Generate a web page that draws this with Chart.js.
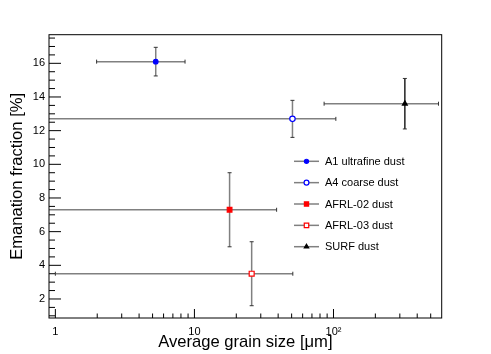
<!DOCTYPE html>
<html><head><meta charset="utf-8">
<script src="https://cdn.jsdelivr.net/npm/chart.js@4.4.1/dist/chart.umd.min.js"></script>
<style>html,body{margin:0;padding:0;background:#fff;}canvas{display:block;}</style>
</head><body>
<canvas id="c" width="491" height="354"></canvas>
<script>
// ---- data ----
const seriesNames = ['A1 ultrafine dust', 'A4 coarse dust', 'AFRL-02 dust', 'AFRL-03 dust', 'SURF dust'];
const grainSize = [5.27, 50.7, 17.9, 25.8, 326];
const grainLow = [1.98, 0.5, 0.5, 1.0, 85.6];
const grainHigh = [8.56, 104, 39, 51, 569];
const emanation = [16.1, 12.7, 7.3, 3.5, 13.6];
const emanationErr = [0.85, 1.1, 2.2, 1.9, 1.5];
const xTickValues = [1, 10, 100];
const xTickLabels = ['1', '10', '10\u00B2'];
const yTickValues = [2, 4, 6, 8, 10, 12, 14, 16];

// ---- styles ----
const markerStyles = [
  {pointStyle: 'circle', radius: 2.3, fill: '#0000ff', stroke: '#0000ff'},
  {pointStyle: 'circle', radius: 2.7, fill: '#ffffff', stroke: '#0000ff'},
  {pointStyle: 'rect', radius: 3.3, fill: '#ff0000', stroke: '#ff0000'},
  {pointStyle: 'rect', radius: 3.5, fill: '#ffffff', stroke: '#ff0000'},
  {pointStyle: 'triangle', radius: 2.8, fill: '#000000', stroke: '#000000'}
];
const xBarColors = ['#808080', '#808080', '#808080', '#808080', '#808080'];
const yBarColors = ['#808080', '#808080', '#808080', '#808080', '#222222'];
const FONT = '"Liberation Sans", Arial, sans-serif';

const datasets = seriesNames.map((name, i) => ({
  label: name,
  data: [{x: grainSize[i], y: emanation[i]}],
  pointStyle: markerStyles[i].pointStyle,
  pointRadius: markerStyles[i].radius,
  pointBackgroundColor: markerStyles[i].fill,
  pointBorderColor: markerStyles[i].stroke,
  pointBorderWidth: 1.2,
  showLine: false
}));

const errorBars = {
  id: 'errorBars',
  beforeDatasetsDraw(chart) {
    const {ctx, chartArea: a, scales: {x, y}} = chart;
    ctx.save();
    ctx.beginPath();
    ctx.rect(a.left, a.top, a.right - a.left, a.bottom - a.top);
    ctx.clip();
    for (let i = 0; i < seriesNames.length; i++) {
      const px = x.getPixelForValue(grainSize[i]);
      const py = y.getPixelForValue(emanation[i]);
      const xl = x.getPixelForValue(grainLow[i]);
      const xh = x.getPixelForValue(grainHigh[i]);
      const yt = y.getPixelForValue(emanation[i] + emanationErr[i]);
      const yb = y.getPixelForValue(emanation[i] - emanationErr[i]);
      ctx.lineWidth = 1.5;
      ctx.strokeStyle = xBarColors[i];
      ctx.beginPath(); ctx.moveTo(xl, py); ctx.lineTo(xh, py); ctx.stroke();
      ctx.strokeStyle = yBarColors[i];
      ctx.beginPath(); ctx.moveTo(px, yt); ctx.lineTo(px, yb); ctx.stroke();
      ctx.lineWidth = 1;
      ctx.strokeStyle = '#333333';
      ctx.beginPath();
      ctx.moveTo(xl, py - 2); ctx.lineTo(xl, py + 2);
      ctx.moveTo(xh, py - 2); ctx.lineTo(xh, py + 2);
      ctx.moveTo(px - 2, yt); ctx.lineTo(px + 2, yt);
      ctx.moveTo(px - 2, yb); ctx.lineTo(px + 2, yb);
      ctx.stroke();
    }
    ctx.restore();
  }
};

const frameTicks = {
  id: 'frameTicks',
  afterDatasetsDraw(chart) {
    const {ctx, chartArea: a, scales: {x, y}} = chart;
    ctx.save();
    ctx.lineWidth = 1;
    ctx.strokeStyle = '#000000';
    ctx.strokeRect(a.left, a.top, a.right - a.left, a.bottom - a.top);
    ctx.beginPath();
    for (let v = 1; v <= 17.5; v += 0.5) {
      const py = y.getPixelForValue(v);
      if (py < a.top || py > a.bottom) continue;
      const len = (Math.abs(v / 2 - Math.round(v / 2)) < 1e-6) ? 12 : 6;
      ctx.moveTo(a.left, py); ctx.lineTo(a.left + len, py);
    }
    for (let d = 0.1; d <= 1000; d *= 10) {
      for (let m = 1; m <= 9; m++) {
        const v = m * d;
        const px = x.getPixelForValue(v);
        if (px < a.left + 1 || px > a.right - 1) continue;
        const len = (m === 1) ? 9 : 4.5;
        ctx.moveTo(px, a.bottom); ctx.lineTo(px, a.bottom - len);
      }
    }
    ctx.stroke();
    ctx.restore();
  }
};

const legendBox = {
  id: 'legendBox',
  afterDraw(chart) {
    const {ctx} = chart;
    ctx.save();
    for (let i = 0; i < seriesNames.length; i++) {
      const yy = 161.3 + i * 21.35;
      ctx.strokeStyle = '#808080';
      ctx.lineWidth = 1.5;
      ctx.beginPath(); ctx.moveTo(294, yy); ctx.lineTo(319, yy); ctx.stroke();
      ctx.fillStyle = markerStyles[i].fill;
      ctx.strokeStyle = markerStyles[i].stroke;
      ctx.lineWidth = 1.2;
      Chart.helpers.drawPoint(ctx, {pointStyle: markerStyles[i].pointStyle, radius: markerStyles[i].radius * 0.9, rotation: 0, borderWidth: 1.2}, 306.5, yy);
      ctx.fillStyle = '#000000';
      ctx.font = '11px ' + FONT;
      ctx.textBaseline = 'middle';
      ctx.textAlign = 'left';
      ctx.fillText(seriesNames[i], 325, yy + 0.5);
    }
    ctx.restore();
  }
};

new Chart(document.getElementById('c'), {
  type: 'scatter',
  data: {datasets},
  plugins: [errorBars, frameTicks, legendBox],
  options: {
    responsive: false,
    animation: false,
    devicePixelRatio: 1,
    layout: {padding: {top: 34.7, right: 49.3, left: 0, bottom: 0}},
    plugins: {legend: {display: false}, tooltip: {enabled: false}},
    scales: {
      x: {
        type: 'logarithmic',
        min: 0.9, max: 600,
        grid: {display: false, drawTicks: false},
        border: {display: false},
        afterBuildTicks: s => { s.ticks = xTickValues.map(v => ({value: v})); },
        afterFit: s => { s.height = 36; },
        ticks: {
          autoSkip: false, maxRotation: 0, padding: 7, color: '#000',
          font: {family: FONT, size: 11},
          callback: (v) => { const k = xTickValues.indexOf(v); return k >= 0 ? xTickLabels[k] : ''; }
        },
        title: {display: true, text: 'Average grain size [\u03BCm]', color: '#000',
          font: {family: FONT, size: 16.6}, padding: {top: 0, bottom: 2}}
      },
      y: {
        min: 0.87, max: 17.7,
        grid: {display: false, drawTicks: false},
        border: {display: false},
        afterBuildTicks: s => { s.ticks = yTickValues.map(v => ({value: v})); },
        afterFit: s => { s.width = 49; },
        ticks: {padding: 4, color: '#000', font: {family: FONT, size: 11},
          callback: v => String(v)},
        title: {display: true, text: 'Emanation fraction [%]', color: '#000',
          font: {family: FONT, size: 16.6}, padding: {top: 7, bottom: 0}}
      }
    }
  }
});
</script>
</body></html>
